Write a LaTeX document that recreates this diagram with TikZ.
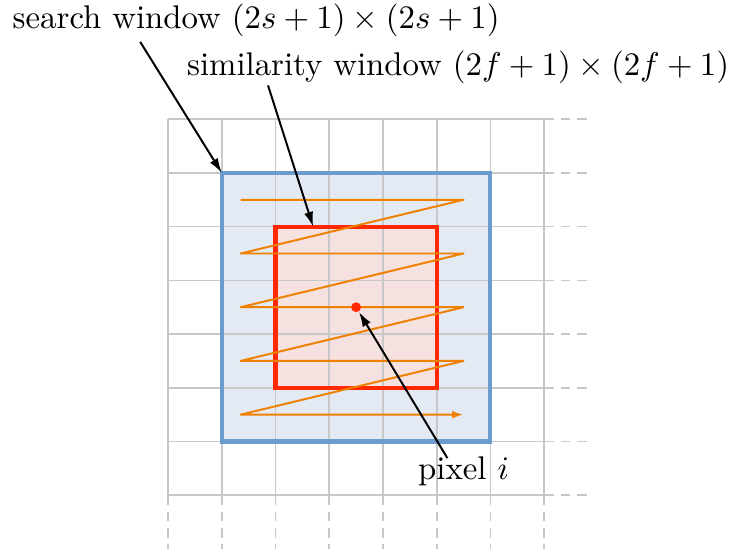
\documentclass[tikz,border=0pt]{standalone}
\usetikzlibrary{arrows.meta}

\definecolor{gridgray}{RGB}{200,200,200}
\definecolor{winblue}{RGB}{108,155,207}
\definecolor{winbluefill}{RGB}{227,234,243}
\definecolor{simred}{RGB}{255,40,0}
\definecolor{simredfill}{RGB}{245,225,224}
\definecolor{scanorange}{RGB}{240,128,0}

\begin{document}
\begin{tikzpicture}[x=0.575cm, y=0.575cm,
    gridline/.style={draw=gridgray, line width=0.5pt},
    ext/.style={gridline, dash pattern=on 3pt off 2pt},
    searchwin/.style={draw=winblue, line width=1.25pt},
    simwin/.style={draw=simred, line width=1.25pt},
    scan/.style={draw=scanorange, line width=0.6pt, line join=round,
                 -{Latex[length=3.5pt,width=2.4pt]}},
    pointer/.style={-{Latex[length=4.5pt,width=2.8pt]}, line width=0.6pt},
    note/.style={inner sep=1pt},
]

    \useasboundingbox (-3.13,-0.99) rectangle (10.61,9.22);

    \fill[winbluefill] (1,1) rectangle (6,6);
    \fill[simredfill] (2,2) rectangle (5,5);

    \foreach \i in {0,...,7} {
        \draw[gridline] (\i,0) -- (\i,7);
        \draw[gridline] (0,\i) -- (7,\i);
        \draw[ext] (\i,0) -- (\i,-1);
        \draw[ext] (7,\i) -- (7.87,\i);
    }

    \draw[searchwin] (1,1) rectangle (6,6);
    \draw[simwin] (2,2) rectangle (5,5);
    \coordinate (scorner) at (1,6);
    \coordinate (simtop) at (2.7,5);

    \draw[scan] (1.35,5.5) -- (5.5,5.5) -- (1.35,4.5) -- (5.5,4.5)
        -- (1.35,3.5) -- (5.5,3.5) -- (1.35,2.5) -- (5.5,2.5)
        -- (1.35,1.5) -- (5.5,1.5);

    \node[circle, fill=simred, inner sep=0pt, minimum size=3pt] (pix) at (3.5,3.5) {};

    \node[note] (search) at (1.64,8.85) {search window $(2s+1)\times(2s+1)$};
    \node[note] (simil) at (5.4,7.97) {similarity window $(2f+1)\times(2f+1)$};
    \node[note] (pixlabel) at (5.5,0.45) {pixel $i$};

    \coordinate (searchfoot) at (-0.52,8.44);
    \coordinate (similfoot) at (1.86,7.63);
    \coordinate (pixfoot) at (5.2,0.69);
    \draw[pointer] (searchfoot) -- (scorner);
    \draw[pointer] (similfoot) -- (simtop);
    \draw[pointer] (pixfoot) -- (pix);

\end{tikzpicture}
\end{document}
